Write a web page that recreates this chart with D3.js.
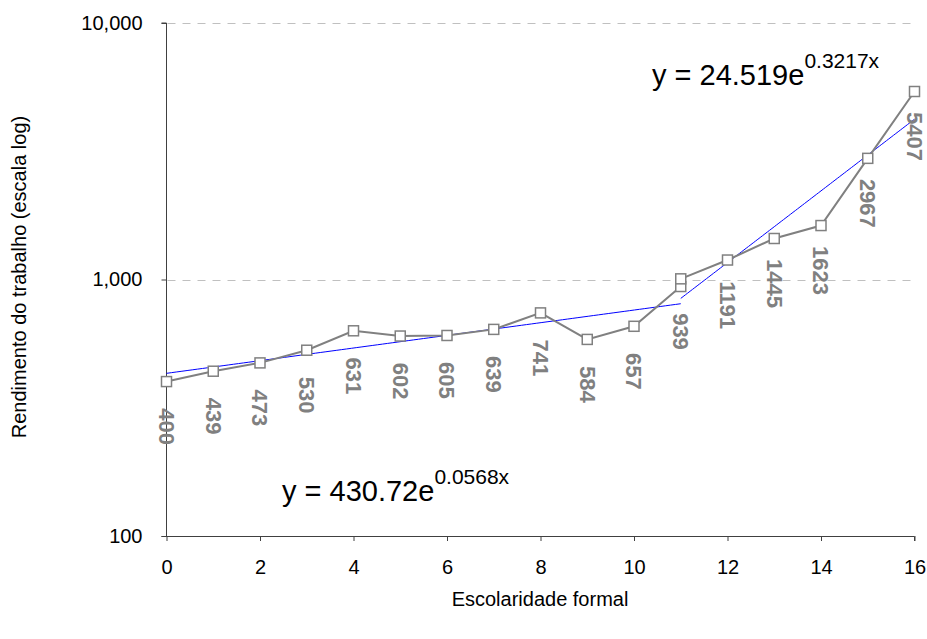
<!DOCTYPE html>
<html>
<head>
<meta charset="utf-8">
<script src="https://cdn.jsdelivr.net/npm/d3@7"></script>
<style>
  html, body { margin: 0; padding: 0; background: #ffffff; }
  svg { display: block; font-family: "Liberation Sans", Arial, sans-serif; }
</style>
</head>
<body>
<svg id="chart" width="927" height="639"></svg>
<script>
// Years of schooling and labour income (log scale), split into two segments
const yearsLow = [0, 1, 2, 3, 4, 5, 6, 7, 8, 9, 10, 11];
const incomeLow = [400, 439, 473, 530, 631, 602, 605, 639, 741, 584, 657, 939];
const yearsHigh = [11, 12, 13, 14, 15, 16];
const incomeHigh = [1006, 1191, 1445, 1623, 2967, 5407];
// which points of each segment carry a value label
const labelLow = [true, true, true, true, true, true, true, true, true, true, true, true];
const labelHigh = [false, true, true, true, true, true];

// Exponential trend lines y = a * e^(b x), as printed on the chart
const trendLow = { a: 430.72, b: 0.0568, from: 0, to: 11, text: "430.72", exp: "0.0568x" };
const trendHigh = { a: 24.519, b: 0.3217, from: 11, to: 16, text: "24.519", exp: "0.3217x" };

const xTicks = [0, 2, 4, 6, 8, 10, 12, 14, 16];
const yTicks = [100, 1000, 10000];

const svg = d3.select("#chart");
const plotLeft = 166.5, plotRight = 914.5, plotTop = 23, plotBottom = 536;

const x = d3.scaleLinear().domain([0, 16]).range([plotLeft, plotRight]);
const y = d3.scaleLog().domain([100, 10000]).range([plotBottom, plotTop]);

const gray = "#808080";
const axisColor = "#404040";

// dashed horizontal gridlines
svg.append("g")
  .selectAll("line")
  .data(yTicks.filter(d => d > 100))
  .join("line")
  .attr("x1", plotLeft + 1).attr("x2", plotRight)
  .attr("y1", d => Math.round(y(d)) + 0.5).attr("y2", d => Math.round(y(d)) + 0.5)
  .attr("stroke", "#c0c0c0").attr("stroke-width", 1)
  .attr("stroke-dasharray", "8,7");

// axes
const fmt = d3.format(",");
const yAxis = svg.append("g")
  .attr("transform", `translate(${plotLeft},0)`)
  .call(d3.axisLeft(y).tickValues(yTicks).tickFormat(fmt).tickSize(5).tickPadding(19));
const xAxis = svg.append("g")
  .attr("transform", `translate(0,${plotBottom})`)
  .call(d3.axisBottom(x).tickValues(xTicks).tickSize(5).tickPadding(19));

[yAxis, xAxis].forEach(g => {
  g.select(".domain").attr("stroke", axisColor).attr("stroke-width", 1);
  g.selectAll(".tick line").attr("stroke", axisColor);
  g.selectAll("text").attr("fill", "#000").style("font-size", "20px")
    .style("font-family", "'Liberation Sans', Arial, sans-serif");
});
// make the x axis line reach the y axis tick on the left
xAxis.select(".domain").attr("d", `M${plotLeft - 5},0.5H${plotRight}V5`);
yAxis.select(".domain").attr("d", `M-5,${plotTop}H0V${plotBottom}`);

// trend lines
const line = d3.line().x(d => x(d[0])).y(d => y(d[1]));
[trendLow, trendHigh].forEach(t => {
  const pts = d3.range(0, 101).map(i => {
    const xv = t.from + (t.to - t.from) * i / 100;
    return [xv, t.a * Math.exp(t.b * xv)];
  });
  svg.append("path").datum(pts)
    .attr("d", line).attr("fill", "none")
    .attr("stroke", "#0000ff").attr("stroke-width", 1);
});

// data series
const segments = [
  { xs: yearsLow, ys: incomeLow, lab: labelLow },
  { xs: yearsHigh, ys: incomeHigh, lab: labelHigh }
];
segments.forEach(s => {
  const pts = s.xs.map((xv, i) => [xv, s.ys[i], s.lab[i]]);
  svg.append("path").datum(pts)
    .attr("d", line).attr("fill", "none")
    .attr("stroke", gray).attr("stroke-width", 2);
  svg.append("g").selectAll("rect")
    .data(pts).join("rect")
    .attr("x", d => x(d[0]) - 5).attr("y", d => y(d[1]) - 5)
    .attr("width", 10).attr("height", 10)
    .attr("fill", "#fff").attr("stroke", gray).attr("stroke-width", 1.5);
  svg.append("g").selectAll("text")
    .data(pts.filter(d => d[2])).join("text")
    .attr("transform", d => `translate(${x(d[0])},${y(d[1]) + 45}) rotate(90)`)
    .attr("text-anchor", "middle")
    .attr("dy", "0.35em")
    .attr("fill", gray)
    .style("font-size", "22px").style("font-weight", "bold")
    .text(d => d[1]);
});

// trend equations
function equation(t, xpos, ypos) {
  const txt = svg.append("text").attr("x", xpos).attr("y", ypos)
    .attr("fill", "#000").style("font-size", "29px");
  txt.append("tspan").text(`y = ${t.text}e`);
  txt.append("tspan").attr("dy", -17).style("font-size", "21px").text(t.exp);
}
equation(trendHigh, 652, 85);
equation(trendLow, 282, 501);

// axis titles
svg.append("text")
  .attr("transform", "translate(26,277) rotate(-90)")
  .attr("text-anchor", "middle")
  .style("font-size", "20px")
  .text("Rendimento do trabalho (escala log)");
svg.append("text")
  .attr("x", 540).attr("y", 606)
  .attr("text-anchor", "middle")
  .style("font-size", "20px")
  .text("Escolaridade formal");
</script>
</body>
</html>
